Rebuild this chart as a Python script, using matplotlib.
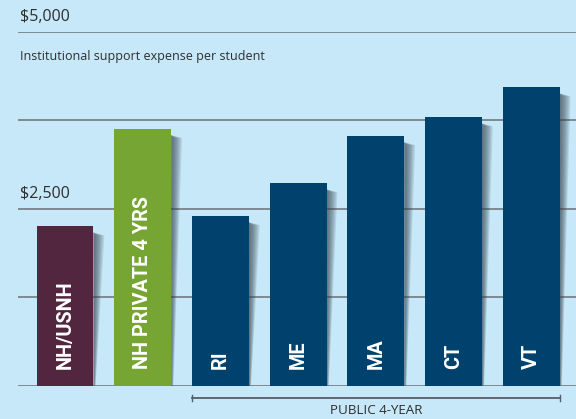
import matplotlib
matplotlib.use('Agg')
import matplotlib.pyplot as plt
from matplotlib.font_manager import fontManager

# Values
categories = ['NH/USNH', 'NH PRIVATE 4 YRS', 'RI', 'ME', 'MA', 'CT', 'VT']
values = [2250, 3625, 2395, 2860, 3525, 3790, 4215]
colors = ['#52263f', '#76a534', '#00426e', '#00426e', '#00426e', '#00426e', '#00426e']
grid_values = [0, 1250, 2500, 3750, 5000]
labelled_values = [5000, 2500]
group_label = 'PUBLIC 4-YEAR'
group_members = ['RI', 'VT']

names = {f.name for f in fontManager.ttflist}
text_font = [f for f in ['Open Sans', 'Liberation Sans'] if f in names] + ['DejaVu Sans']
bar_font = [f for f in ['Roboto', 'Open Sans'] if f in names] + ['DejaVu Sans']

bg = '#c6e8f8'
fig = plt.figure(figsize=(5.76, 4.19), dpi=100, facecolor=bg)
ax = fig.add_axes([18 / 576, 33.5 / 419, 558 / 576, 354 / 419])
ax.set_facecolor(bg)
ax.set_xlim(-0.605, 6.577)
ax.set_ylim(0, 5000)
for s in ax.spines.values():
    s.set_visible(False)
ax.set_xticks([])
ax.set_yticks([])

for g in grid_values:
    ax.axhline(g, color='#7f8a92', lw=1.4, zorder=0)

width = 0.733
x = list(range(len(categories)))

# soft shadow on the right side of each bar
for i, v in enumerate(values):
    xr = i + width / 2
    for k in range(8):
        w = 0.14 * (k + 1) / 8
        ax.fill([xr, xr + w, xr + w * 0.2, xr],
                [v - 90, v - 130, 0, 0],
                color='#34414c', alpha=0.13, lw=0, zorder=1)

ax.bar(x, values, width=width, color=colors, zorder=2)

for i, name in enumerate(categories):
    ax.annotate(name, xy=(i, 0), xytext=(0, 12), textcoords='offset points',
                rotation=90, ha='center', va='bottom', color='white',
                fontsize=14.3, fontweight='bold', family=bar_font, zorder=3)

for g in labelled_values:
    ax.annotate('${:,}'.format(g), xy=(0, g), xycoords=('axes fraction', 'data'),
                xytext=(1.5, 5), textcoords='offset points', ha='left', va='bottom',
                fontsize=11.5, color='#2e2e2e', family=text_font)

ax.text(0.004, 0.948, 'Institutional support expense per student', transform=ax.transAxes,
        ha='left', va='top', fontsize=9, color='#2e2e2e', family=text_font)

# bracket under the public 4-year bars
i0 = categories.index(group_members[0]) - width / 2
i1 = categories.index(group_members[1]) + width / 2
yb = -0.0353
ax.plot([i0, i1], [yb, yb], color='#555f66', lw=1.3, clip_on=False,
        transform=ax.get_xaxis_transform())
for xe in (i0, i1):
    ax.plot([xe, xe], [yb - 0.008, yb + 0.008], color='#555f66', lw=1.0, clip_on=False,
            transform=ax.get_xaxis_transform())
ax.text((i0 + i1) / 2, -0.071, group_label, transform=ax.get_xaxis_transform(),
        ha='center', va='center', fontsize=9.6, color='#2e2e2e', family=text_font)

fig.savefig('out.png', dpi=100, facecolor=bg)
